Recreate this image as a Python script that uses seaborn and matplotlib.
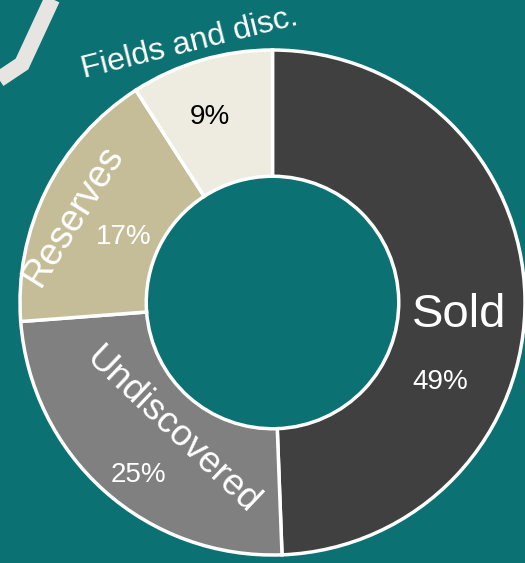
import matplotlib
matplotlib.use("Agg")
import matplotlib.pyplot as plt
import seaborn as sns

# ---- data ----
categories = ["Sold", "Undiscovered", "Reserves", "Fields and disc."]
values = [49.4, 24.4, 17.1, 9.1]          # wedge sizes as drawn
pct_labels = ["49%", "25%", "17%", "9%"]  # labels as printed
colors = ["#404040", "#808080", "#C4BD97", "#EEECE1"]

bg = "#0B7172"

sns.set_style("white")
plt.rcParams["font.family"] = ["Liberation Sans", "DejaVu Sans"]

W, H = 525, 563
fig = plt.figure(figsize=(W / 100, H / 100), dpi=100, facecolor=bg)
ax = fig.add_axes([0, 0, 1, 1])
ax.set_facecolor(bg)

cx, cy, R = 272.5, 302.5, 252.5  # pixel layout of the ring


def P(px, py):
    return ((px - cx) / R, (cy - py) / R)


ax.pie(values, colors=colors, startangle=90, counterclock=False, radius=1,
       wedgeprops=dict(width=0.5, edgecolor="white", linewidth=2.5))

# decorative band top-left
band = [P(54, -5), P(22, 64), P(-5, 82)]
ax.plot([b[0] for b in band], [b[1] for b in band], color="#E6E5E1",
        linewidth=11.5, solid_joinstyle="miter", solid_capstyle="butt", zorder=0)

ax.set_xlim(-cx / R, (W - cx) / R)
ax.set_ylim(-(H - cy) / R, cy / R)
ax.set_aspect("equal")
ax.axis("off")

txt = dict(ha="center", va="center", color="white")
ax.text(*P(459, 315), categories[0], fontsize=34, **txt)
ax.text(*P(440, 382), pct_labels[0], fontsize=20, **txt)
ax.text(*P(172, 430), categories[1], fontsize=26.5, rotation=-43.5,
        rotation_mode="anchor", **txt)
ax.text(*P(138, 475), pct_labels[1], fontsize=20, **txt)
ax.text(*P(73, 215), categories[2], fontsize=27, rotation=58,
        rotation_mode="anchor", **txt)
ax.text(*P(124, 237), pct_labels[2], fontsize=20, **txt)
ax.text(*P(190, 43), categories[3], fontsize=23, rotation=14,
        rotation_mode="anchor", **txt)
ax.text(*P(210, 117), pct_labels[3], fontsize=20, ha="center", va="center",
        color="black")

fig.savefig("out.png", dpi=100, facecolor=bg)
